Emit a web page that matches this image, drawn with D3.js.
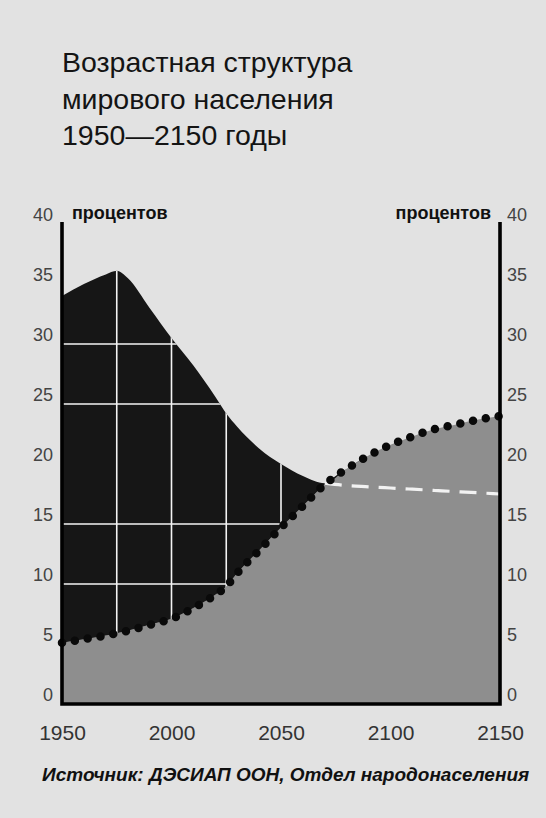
<!DOCTYPE html>
<html>
<head>
<meta charset="utf-8">
<script src="https://cdn.jsdelivr.net/npm/d3@7"></script>
<style>
  body { margin: 0; background: #e2e2e2; }
  svg { display: block; font-family: "Liberation Sans", Arial, sans-serif; }
</style>
</head>
<body>
<svg></svg>
<script>
const size = { w: 546, h: 818 };
const svg = d3.select("svg").attr("width", size.w).attr("height", size.h);

// data (percent of world population)
const years = [1950, 1960, 1970, 1975, 1980, 1990, 2000, 2010, 2020, 2025, 2030, 2040,
	2050, 2060, 2070, 2080, 2090, 2100, 2110, 2120, 2130, 2140, 2150];
const youngShare = [34.0, 35.0, 35.8, 36.1, 35.5, 33.0, 30.5, 28.2, 25.6, 24.2, 23.1, 21.3,
	20.0, 19.0, 18.4, 18.2, 18.1, 18.0, 17.9, 17.8, 17.7, 17.6, 17.5];
const oldShare = [5.1, 5.4, 5.7, 5.9, 6.1, 6.6, 7.1, 8.0, 9.1, 9.8, 10.9, 12.8,
	14.7, 16.5, 18.3, 19.6, 20.7, 21.6, 22.3, 22.9, 23.3, 23.7, 24.0];
const yTicks = [0, 5, 10, 15, 20, 25, 30, 35, 40];
const xTicks = [1950, 2000, 2050, 2100, 2150];
const gridYears = [1975, 2000, 2025, 2050];
const gridValues = [10, 15, 25, 30];
const titleLines = ["Возрастная структура", "мирового населения", "1950—2150 годы"];
const unitLabel = "процентов";
const sourceText = "Источник: ДЭСИАП ООН, Отдел народонаселения";

const rows = years.map((yr, i) => ({ year: yr, young: youngShare[i], old: oldShare[i] }));

const x = d3.scaleLinear().domain([1950, 2150]).range([62, 500]);
const y = d3.scaleLinear().domain([0, 40]).range([704, 224]);

// title
svg.append("g")
	.selectAll("text")
	.data(titleLines)
	.enter()
	.append("text")
	.attr("x", 62)
	.attr("y", (d, i) => 72 + i * 36.5)
	.attr("font-size", 28.5)
	.attr("fill", "#141414")
	.text((d) => d);

const plot = svg.append("g");

// grey area: older people
const oldArea = d3.area()
	.curve(d3.curveMonotoneX)
	.x((d) => x(d.year))
	.y0(y(0))
	.y1((d) => y(d.old));
plot.append("path").datum(rows).attr("d", oldArea).attr("fill", "#8e8e8e");

// black area: children above the old line
const darkArea = d3.area()
	.curve(d3.curveMonotoneX)
	.x((d) => x(d.year))
	.y0((d) => y(d.old))
	.y1((d) => y(Math.max(d.young, d.old)));
svg.append("clipPath").attr("id", "darkClip")
	.append("path").datum(rows).attr("d", darkArea);
plot.append("path").datum(rows).attr("d", darkArea).attr("fill", "#161616");

// white grid only shows on the dark part
const grid = plot.append("g").attr("clip-path", "url(#darkClip)")
	.attr("stroke", "#f4f4f4").attr("stroke-width", 1.6);
grid.selectAll("line.v").data(gridYears).enter().append("line")
	.attr("x1", (d) => x(d)).attr("x2", (d) => x(d))
	.attr("y1", y(40)).attr("y2", y(0));
grid.selectAll("line.h").data(gridValues).enter().append("line")
	.attr("x1", x(1950)).attr("x2", x(2150))
	.attr("y1", (d) => y(d)).attr("y2", (d) => y(d));

// children after they drop below the old line: white dashes
const youngLine = d3.line()
	.curve(d3.curveMonotoneX)
	.x((d) => x(d.year))
	.y((d) => y(d.young));
plot.append("path").datum(rows.filter((d) => d.year >= 2070))
	.attr("d", youngLine)
	.attr("fill", "none").attr("stroke", "#f2f2f2")
	.attr("stroke-width", 3.2).attr("stroke-dasharray", "17 10");

// dotted line for the old share
const oldLine = d3.line()
	.curve(d3.curveMonotoneX)
	.x((d) => x(d.year))
	.y((d) => y(d.old));
plot.append("path").datum(rows)
	.attr("d", oldLine)
	.attr("fill", "none").attr("stroke", "#0a0a0a")
	.attr("stroke-width", 8.5).attr("stroke-linecap", "round")
	.attr("stroke-dasharray", "0 13");

// frame (open at the top)
plot.append("path")
	.attr("d", `M${x(1950)},${y(40) - 2}V${y(0)}H${x(2150)}V${y(40) - 2}`)
	.attr("fill", "none").attr("stroke", "#000").attr("stroke-width", 3.6);

// axes
const leftAxis = svg.append("g")
	.attr("transform", `translate(${x(1950)},0)`)
	.call(d3.axisLeft(y).tickValues(yTicks).tickSize(0).tickPadding(9));
const rightAxis = svg.append("g")
	.attr("transform", `translate(${x(2150)},0)`)
	.call(d3.axisRight(y).tickValues(yTicks).tickSize(0).tickPadding(7));
[leftAxis, rightAxis].forEach((g) => {
	g.select(".domain").remove();
	g.selectAll("text").attr("dy", null).attr("y", -4)
		.attr("font-size", 18).attr("fill", "#444")
		.attr("font-family", "Liberation Sans, Arial, sans-serif");
});

const bottomAxis = svg.append("g")
	.attr("transform", `translate(0,${y(0)})`)
	.call(d3.axisBottom(x).tickValues(xTicks).tickSize(0).tickFormat(d3.format("d")));
bottomAxis.select(".domain").remove();
bottomAxis.selectAll("text").attr("dy", null).attr("y", 36)
	.attr("font-size", 21).attr("fill", "#333")
	.attr("font-family", "Liberation Sans, Arial, sans-serif");

// unit labels
svg.append("text").attr("x", 72).attr("y", 219)
	.attr("font-size", 18).attr("font-weight", "bold").attr("fill", "#111")
	.text(unitLabel);
svg.append("text").attr("x", 491).attr("y", 219).attr("text-anchor", "end")
	.attr("font-size", 18).attr("font-weight", "bold").attr("fill", "#111")
	.text(unitLabel);

// source
svg.append("text").attr("x", 42).attr("y", 781)
	.attr("font-size", 19).attr("font-weight", "bold").attr("font-style", "italic")
	.attr("fill", "#111")
	.text(sourceText);
</script>
</body>
</html>
